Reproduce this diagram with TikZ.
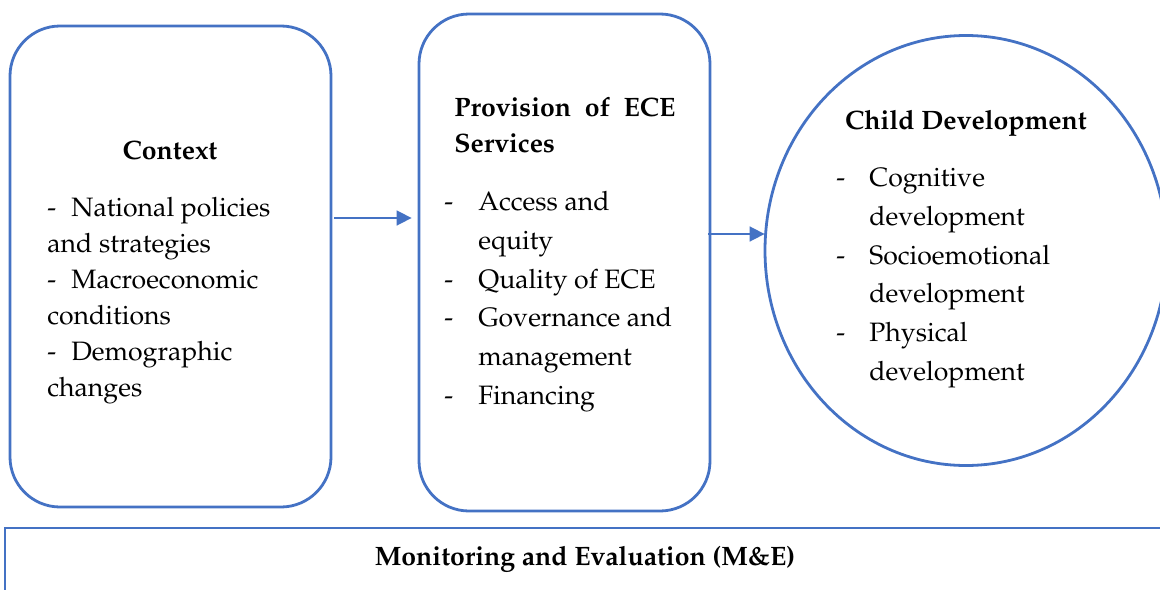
\documentclass[tikz,border=0pt]{standalone}
\usepackage[T1]{fontenc}
\renewcommand{\rmdefault}{ppl}
\usetikzlibrary{shapes.geometric,arrows.meta}
\definecolor{bl}{HTML}{4472C4}
\tikzset{
  frame/.style={draw=bl, line width=1.4pt, inner sep=0pt},
  arr/.style={draw=bl, line width=0.8pt, -{Triangle[length=7.5pt,width=7.5pt]}},
  txt/.style={inner sep=0pt, font=\fontsize{13.3}{18}\selectfont, anchor=base west},
  hd/.style={inner sep=0pt, font=\fontsize{13.3}{18}\selectfont\bfseries, anchor=base},
}
\begin{document}
\begin{tikzpicture}[x=0.5pt,y=-0.5pt]
\clip (0,0) rectangle (1160,589);
\useasboundingbox (0,0) rectangle (1160,589);
% shapes
\node[frame, rounded corners=25pt, minimum width=160.5pt, minimum height=240.5pt] (ctx) at (170.5,266.5) {};
\node[frame, rounded corners=25pt, minimum width=145.5pt, minimum height=248.5pt] (prov) at (564.5,262.5) {};
\node[frame, ellipse, minimum width=201pt, minimum height=215pt] (cd) at (966,250.5) {};
\node[draw=bl, line width=1.1pt, inner sep=0pt, minimum width=590pt, minimum height=60pt, anchor=north west] (me) at (4,527) {};
% arrows
\coordinate (y1) at (0,218);
\coordinate (y2) at (0,234);
\draw[arr, shorten >=3pt] ([xshift=1pt]ctx.east |- y1) -- (prov.west |- y1);
\draw[arr] ([xshift=-1.5pt]prov.east |- y2) -- ([xshift=0.5pt]cd.west |- y2);
% Context
\node[hd] (h1) at (170,159) {Context};
\node[txt] (a1d) at (47,216) {-};
\node[txt] (a1) at (71,216) {National policies};
\node[txt] (a2) at (47,252) {and strategies};
\node[txt] (a3d) at (47,288) {-};
\node[txt] (a3) at (71,288) {Macroeconomic};
\node[txt] (a4) at (47,324) {conditions};
\node[txt] (a5d) at (47,360) {-};
\node[txt] (a5) at (71,360) {Demographic};
\node[txt] (a6) at (47,396) {changes};
% Provision
\node[hd, anchor=base west] (h2a) at (454,116) {\makebox[110.5pt][s]{Provision of ECE}};
\node[hd, anchor=base west] (h2b) at (454,152) {Services};
\node[txt] (b1d) at (444,210) {-};
\node[txt] (b1) at (478,210) {Access and};
\node[txt] (b2) at (478,249) {equity};
\node[txt] (b3d) at (444,288) {-};
\node[txt] (b3) at (478,288) {Quality of ECE};
\node[txt] (b4d) at (444,326) {-};
\node[txt] (b4) at (478,326) {Governance and};
\node[txt] (b5) at (478,365) {management};
\node[txt] (b6d) at (444,404) {-};
\node[txt] (b6) at (478,404) {Financing};
% Child development
\node[hd] (h3) at (966,129) {Child Development};
\node[txt] (c1d) at (836,186) {-};
\node[txt] (c1) at (869,186) {Cognitive};
\node[txt] (c2) at (869,225) {development};
\node[txt] (c3d) at (836,264) {-};
\node[txt] (c3) at (869,264) {Socioemotional};
\node[txt] (c4) at (869,302) {development};
\node[txt] (c5d) at (836,341) {-};
\node[txt] (c5) at (869,341) {Physical};
\node[txt] (c6) at (869,380) {development};
% M&E
\node[hd] (h4) at (585,565) {Monitoring and Evaluation (M\&E)};
\end{tikzpicture}
\end{document}
